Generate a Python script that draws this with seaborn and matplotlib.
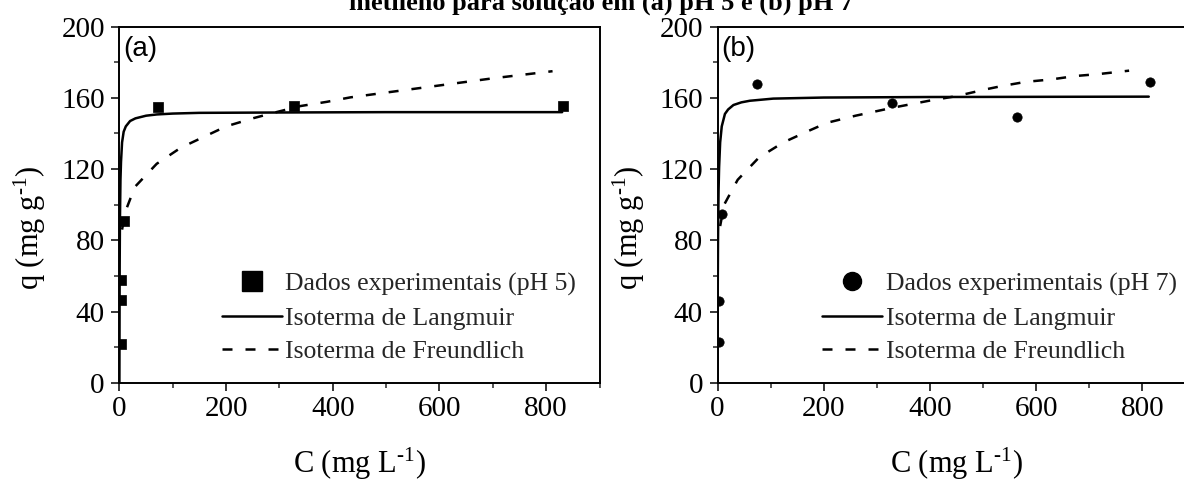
import numpy as np
import pandas as pd
import matplotlib
matplotlib.use("Agg")
import matplotlib.pyplot as plt
from matplotlib.lines import Line2D
from matplotlib.ticker import MultipleLocator
import seaborn as sns

# ---------------- data ----------------
a_C_data = [2.5, 3, 3.5, 8, 73, 327, 832]
a_q_data = [22, 46.5, 57.5, 91, 155, 155.5, 155.5]

b_C_data = [2, 2.5, 8, 74, 328, 563, 814]
b_q_data = [23, 46, 95, 168, 157, 149, 169]

a_C_lang = [0, 0.5, 1, 2, 3, 5, 8, 12, 20, 30, 50, 70, 100, 150, 300, 500, 830]
a_q_lang = [0, 65, 91, 114, 124, 135, 141, 144, 147, 148.5, 150, 150.7, 151.2, 151.6, 151.8, 152, 152]

b_C_lang = [0, 0.5, 1, 2, 3, 5, 8, 14, 20, 30, 45, 61, 105, 200, 400, 600, 812]
b_q_lang = [0, 55, 82, 108, 121, 135, 144, 151, 153.5, 156, 157.5, 158.4, 159.6, 160.2, 160.5, 160.6, 160.7]

a_C_freu = [5, 11, 29, 70, 115, 161, 200, 251, 289, 339, 389, 433, 500, 600, 700, 812]
a_q_freu = [86, 96, 110, 123, 132, 138.5, 144, 148.6, 151.6, 155.4, 157.8, 160.3, 163, 167, 171, 175]

b_C_freu = [5, 12.5, 38, 78, 124, 171, 206, 260, 330, 400, 450, 505, 536, 580, 629, 674, 718, 775]
b_q_freu = [88, 100, 114, 126.5, 135, 141.4, 146, 150, 154.5, 158.5, 161, 164.8, 166.7, 169, 170.4, 172.3, 173.4, 175.3]

legend_a = ["Dados experimentais (pH 5)", "Isoterma de Langmuir", "Isoterma de Freundlich"]
legend_b = ["Dados experimentais (pH 7)", "Isoterma de Langmuir", "Isoterma de Freundlich"]
panel_labels = ["(a)", "(b)"]
title_text = "metileno para solução em (a) pH 5 e (b) pH 7"
xlabel_text = "C (mg L$^{\\mathrm{\u2010}1}$)"
ylabel_text = "q (mg g$^{\\mathrm{\u2010}1}$)"

# ---------------- style ----------------
sns.set_theme(style="ticks")
plt.rcParams["font.family"] = ["Liberation Serif", "DejaVu Serif"]
plt.rcParams["mathtext.fontset"] = "custom"
plt.rcParams["mathtext.rm"] = "Liberation Serif"
plt.rcParams["mathtext.it"] = "Liberation Serif:italic"
plt.rcParams["axes.linewidth"] = 1.4

W, H = 1184, 480
fig = plt.figure(figsize=(W / 100, H / 100), dpi=100)

def px_axes(left, top, right, bottom):
    return [left / W, 1 - bottom / H, (right - left) / W, (bottom - top) / H]

ax_a = fig.add_axes(px_axes(119.4, 26.7, 599.5, 382.7))
ax_b = fig.add_axes(px_axes(717.5, 26.7, 1195.5, 382.7))

LW = 1.8
DASH = (4.0, 5.2)

def draw(ax, Cd, qd, marker, msize, Cl, ql, Cf, qf, labels, plabel, leg_x):
    sns.lineplot(x=Cl, y=ql, ax=ax, color="black", linewidth=LW,
                 estimator=None, sort=False, errorbar=None)
    sns.lineplot(x=Cf, y=qf, ax=ax, color="black", linewidth=LW,
                 estimator=None, sort=False, errorbar=None)
    ax.lines[-1].set_dashes(DASH)
    sns.scatterplot(x=Cd, y=qd, ax=ax, marker=marker, s=msize, color="black",
                    edgecolor="black", linewidth=0.5, zorder=5)
    ax.set_xlim(0, 900)
    ax.set_ylim(0, 200)
    ax.xaxis.set_major_locator(MultipleLocator(200))
    ax.xaxis.set_minor_locator(MultipleLocator(100))
    ax.yaxis.set_major_locator(MultipleLocator(40))
    ax.yaxis.set_minor_locator(MultipleLocator(20))
    ax.tick_params(which="major", direction="out", length=6, width=1.1,
                   labelsize=21, colors="black", pad=3.5)
    ax.tick_params(which="minor", direction="out", length=3.5, width=1.1)
    ax.tick_params(axis="y", which="major", pad=4.5)
    for s in ax.spines.values():
        s.set_visible(True)
        s.set_color("black")
        s.set_linewidth(1.4)
    ax.set_xlabel(xlabel_text, fontsize=22, color="black")
    ax.set_ylabel(ylabel_text, fontsize=22, color="black")
    ax.xaxis.set_label_coords(0.5, -0.178)
    ax.yaxis.set_label_coords(-0.148, 0.435)
    ax.text(0.008, 0.975, plabel, transform=ax.transAxes, ha="left", va="top",
            fontsize=20, family=["Liberation Sans", "DejaVu Sans"], color="black")
    handles = [
        Line2D([], [], marker=marker, linestyle="none", color="black",
               markersize=14 if marker == "s" else 13),
        Line2D([], [], color="black", linewidth=LW),
        Line2D([], [], color="black", linewidth=LW, dashes=DASH),
    ]
    ax.legend(handles, labels, loc="upper left", bbox_to_anchor=(leg_x, 0.31),
              frameon=False, borderpad=0, borderaxespad=0,
              handlelength=2.33, handletextpad=0.14, labelspacing=0.42,
              prop={"family": "Liberation Serif", "size": 18.5})
    ax.grid(False)

draw(ax_a, a_C_data, a_q_data, "s", 56, a_C_lang, a_q_lang, a_C_freu, a_q_freu,
     legend_a, panel_labels[0], 0.213)
draw(ax_b, b_C_data, b_q_data, "o", 45, b_C_lang, b_q_lang, b_C_freu, b_q_freu,
     legend_b, panel_labels[1], 0.219)

fig.text(601 / W, 1 - 9.5 / H, title_text, ha="center", va="baseline",
         fontsize=19, fontweight="bold", color="black")

fig.savefig("out.png", dpi=100, facecolor="white")
